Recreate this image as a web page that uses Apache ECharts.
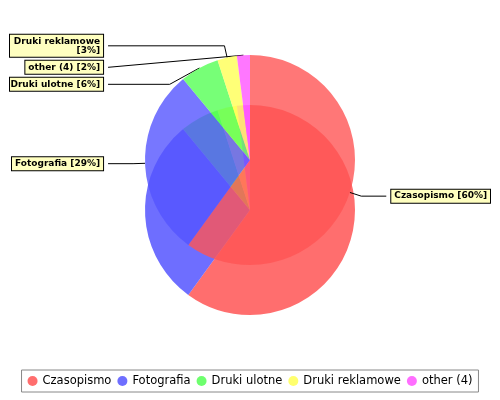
<!DOCTYPE html>
<html><head><meta charset="utf-8">
<script src="https://cdn.jsdelivr.net/npm/echarts@6/dist/echarts.min.js"></script>
<style>html,body{margin:0;padding:0;background:#fff}#chart{width:500px;height:400px}</style>
</head><body><div id="chart"></div>
<script>
const categories = ['Czasopismo', 'Fotografia', 'Druki ulotne', 'Druki reklamowe', 'other (4)'];
const values = [60, 29, 6, 3, 2];
const colors = ['#ff5555', '#5555ff', '#55ff55', '#ffff55', '#ff55ff'];
const topColors = ['rgba(255,85,85,0.8)', 'rgba(85,85,255,0.8)', 'rgba(85,255,85,0.8)', 'rgba(255,255,85,0.8)', 'rgba(255,85,255,0.8)'];

const topData = categories.map((c, i) => ({
    name: c, value: values[i], itemStyle: { color: topColors[i] },
    label: c === 'Druki reklamowe' ? { formatter: '{b}\n[{d}%]' } : {}
}));

// side of the "cylinder": same pie shifted down
const sideData = categories.map((c, i) => ({
    name: c, value: values[i],
    itemStyle: { color: colors[i], opacity: 0.85 }
}));

const option = {
    animation: false,
    color: colors,
    legend: {
        bottom: 8,
        left: 'center',
        data: categories,
        icon: 'circle',
        itemWidth: 10, itemHeight: 10, itemGap: 6,
        borderColor: '#888', borderWidth: 1, padding: [5, 6],
        textStyle: { fontSize: 11.5, fontFamily: 'DejaVu Sans', color: '#000' }
    },
    series: [
        {
            type: 'pie', center: [250, 210], radius: 105, startAngle: 90,
            silent: true, label: { show: false }, labelLine: { show: false },
            itemStyle: { borderWidth: 0 },
            data: sideData, z: 1
        },
        {
            type: 'pie', center: [250, 160], radius: 105, startAngle: 90,
            data: topData, z: 2,
            itemStyle: { borderWidth: 0 },
            label: {
                formatter: '{b} [{d}%]',
                fontSize: 9, fontFamily: 'DejaVu Sans', fontWeight: 'bold', color: '#000',
                backgroundColor: '#ffffc0', borderColor: '#000', borderWidth: 1,
                padding: [2, 3], overflow: 'none',
                alignTo: 'labelLine'
            },
            labelLine: { length: 12, length2: 25, lineStyle: { color: '#000', width: 1 } }
        }
    ]
};
echarts.init(document.getElementById('chart')).setOption(option);
</script></body></html>
